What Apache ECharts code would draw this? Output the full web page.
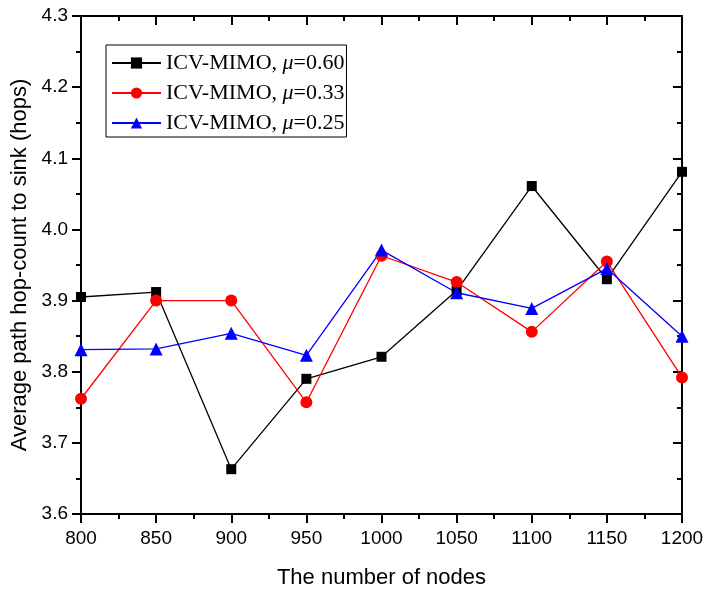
<!DOCTYPE html>
<html>
<head>
<meta charset="utf-8">
<script src="https://cdn.jsdelivr.net/npm/echarts@6/dist/echarts.min.js"></script>
<style>html,body{margin:0;padding:0;background:#fff}#c{width:708px;height:594px}</style>
</head>
<body>
<div id="c"></div>
<script>
var nodes = [800, 850, 900, 950, 1000, 1050, 1100, 1150, 1200];
var mu060 = [3.905, 3.912, 3.663, 3.790, 3.821, 3.914, 4.061, 3.930, 4.081];
var mu033 = [3.762, 3.900, 3.900, 3.757, 3.963, 3.926, 3.856, 3.955, 3.792];
var mu025 = [3.831, 3.832, 3.854, 3.823, 3.971, 3.911, 3.889, 3.945, 3.850];
var seriesNames = ['ICV-MIMO, μ=0.60', 'ICV-MIMO, μ=0.33', 'ICV-MIMO, μ=0.25'];
var xTitle = 'The number of nodes';
var yTitle = 'Average path hop-count to sink (hops)';

function pairs(ys) { return nodes.map(function (x, i) { return [x, ys[i]]; }); }

var sans = '"Liberation Sans", Arial, sans-serif';
var serif = '"Liberation Serif", "Times New Roman", serif';

function xAx(pos, show) {
  return {
    type: 'value', position: pos, min: 800, max: 1200, interval: 50,
    name: show ? xTitle : '', nameLocation: 'middle', nameGap: 53,
    nameTextStyle: { fontFamily: sans, fontSize: 22, color: '#000' },
    axisLine: { show: true, onZero: false, lineStyle: { color: '#000', width: 2 } },
    axisTick: { show: true, inside: !show, length: 9, lineStyle: { color: '#000', width: 2 } },
    minorTick: { show: true, splitNumber: 2, length: 5, lineStyle: { color: '#000', width: 2 } },
    axisLabel: { show: show, margin: 15, fontFamily: sans, fontSize: 19, color: '#000',
      formatter: function (v) { return String(v); } },
    splitLine: { show: false }
  };
}
function yAx(pos, show) {
  return {
    type: 'value', position: pos, min: 3.6, max: 4.3, interval: 0.1,
    name: show ? yTitle : '', nameLocation: 'middle', nameGap: 50,
    nameTextStyle: { fontFamily: sans, fontSize: 22, color: '#000' },
    axisLine: { show: true, onZero: false, lineStyle: { color: '#000', width: 2 } },
    axisTick: { show: true, inside: !show, length: 9, lineStyle: { color: '#000', width: 2 } },
    minorTick: { show: true, splitNumber: 2, length: 5, lineStyle: { color: '#000', width: 2 } },
    axisLabel: { show: show, margin: 13, fontFamily: sans, fontSize: 19, color: '#000',
      formatter: function (v) { return v.toFixed(1); } },
    splitLine: { show: false }
  };
}

function ser(i, ys, color, symbol, size) {
  return {
    name: seriesNames[i], type: 'line', data: pairs(ys), xAxisIndex: 0, yAxisIndex: 0,
    symbol: symbol, symbolSize: size, showAllSymbol: true, clip: false,
    lineStyle: { color: color, width: 1.3 },
    itemStyle: { color: color, borderWidth: 0 },
    emphasis: { disabled: true }
  };
}

var chart = echarts.init(document.getElementById('c'), null, { renderer: 'canvas' });
chart.setOption({
  animation: false,
  backgroundColor: '#fff',
  grid: { left: 81, right: 26, top: 16, bottom: 79, containLabel: false },
  xAxis: [xAx('bottom', true), xAx('top', false)],
  yAxis: [yAx('left', true), yAx('right', false)],
  legend: {
    orient: 'vertical', left: 106, top: 45,
    padding: [7, 2, 3, 5], itemGap: 8, itemWidth: 49, itemHeight: 14,
    borderColor: '#000', borderWidth: 1, backgroundColor: '#fff',
    data: seriesNames,
    formatter: function (n) { return n.replace('μ', '{i|μ}'); },
    textStyle: { fontFamily: serif, fontSize: 22, color: '#000',
      rich: { i: { fontFamily: serif, fontSize: 22, fontStyle: 'italic', color: '#000' } } }
  },
  series: [
    ser(0, mu060, '#000000', 'rect', 10),
    ser(1, mu033, '#ff0000', 'circle', 12),
    ser(2, mu025, '#0000ff', 'triangle', 13)
  ]
});
</script>
</body>
</html>
